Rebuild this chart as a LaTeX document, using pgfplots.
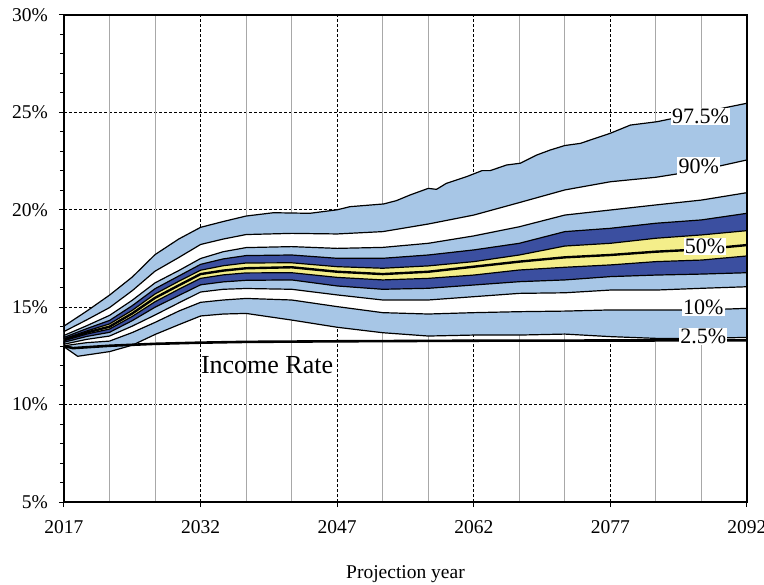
\documentclass[border=0pt]{standalone}
\usepackage{fontspec}
\setmainfont{Liberation Serif}
\usepackage{pgfplots}
\pgfplotsset{compat=1.18}
\usepackage{pgfplotstable}
\usepgfplotslibrary{fillbetween}
\definecolor{lb}{HTML}{A7C6E6}
\definecolor{db}{HTML}{3B4FA0}
\definecolor{yl}{HTML}{F4EE8A}
\definecolor{gr}{HTML}{A8A8A8}

\pgfplotstableread{
year p10 p20 p30 p40 p50 p60 p70 p80 p90
2017 13.02 13.10 13.20 13.28 13.33 13.38 13.45 13.55 13.75
2019.5 13.18 13.35 13.50 13.62 13.70 13.78 13.90 14.05 14.35
2022 13.26 13.52 13.71 13.88 14.00 14.14 14.32 14.58 14.98
2024.5 13.70 14.03 14.31 14.53 14.68 14.84 15.08 15.36 15.85
2027 14.22 14.60 15.00 15.28 15.48 15.68 15.95 16.25 16.85
2029.6 14.80 15.22 15.60 15.92 16.12 16.33 16.60 16.88 17.55
2032 15.25 15.78 16.15 16.48 16.70 16.90 17.20 17.50 18.22
2034.5 15.37 15.92 16.30 16.66 16.88 17.13 17.48 17.85 18.50
2037 15.45 15.96 16.38 16.76 17.00 17.27 17.65 18.06 18.73
2042 15.37 15.92 16.40 16.77 17.05 17.28 17.68 18.11 18.79
2047 15.03 15.63 16.09 16.53 16.82 17.08 17.51 18.02 18.76
2052 14.72 15.37 15.92 16.40 16.70 17.00 17.51 18.07 18.88
2057 14.65 15.37 15.97 16.48 16.82 17.12 17.68 18.28 19.27
2062 14.72 15.54 16.14 16.65 17.08 17.34 17.94 18.66 19.73
2067 14.77 15.71 16.31 16.91 17.34 17.68 18.28 19.13 20.37
2072 14.80 15.74 16.40 17.05 17.56 18.14 18.88 19.73 21.02
2077 14.86 15.88 16.57 17.17 17.68 18.28 19.05 19.99 21.44
2082 14.86 15.88 16.65 17.34 17.85 18.54 19.31 20.25 21.67
2087 14.86 15.97 16.70 17.42 17.97 18.71 19.48 20.50 22.04
2092 14.94 16.05 16.77 17.63 18.19 18.93 19.82 20.88 22.56
}\bands

\pgfplotstableread{
year p975
2017 14.03
2019.5 14.80
2022 15.62
2024.5 16.55
2027 17.70
2029.6 18.50
2032 19.10
2034.5 19.40
2037 19.68
2040 19.85
2044 19.82
2047 20.00
2048.4 20.16
2052.1 20.30
2053.5 20.47
2055 20.76
2057 21.10
2057.9 21.05
2059 21.36
2061.2 21.70
2062.9 22.01
2063.8 22.01
2065.6 22.30
2067.1 22.39
2068.9 22.81
2070.4 23.07
2072 23.30
2073.7 23.41
2077 23.93
2079.2 24.35
2082.1 24.52
2085 24.80
2090.1 25.29
2092 25.47
}\upperband

\pgfplotstableread{
year p025
2017 12.97
2018.5 12.48
2022 12.72
2024.5 13.05
2027 13.60
2029.6 14.10
2032 14.55
2034.5 14.65
2037 14.68
2042 14.34
2047 13.97
2052 13.69
2057 13.52
2062 13.57
2067 13.57
2072 13.62
2077 13.49
2082 13.40
2087 13.40
2092 13.45
}\lowerband

\pgfplotstableread{
year rate
2017 13.00
2018 12.90
2022 13.02
2027 13.12
2032 13.18
2037 13.22
2047 13.25
2062 13.28
2092 13.30
}\income

\begin{document}
\begin{tikzpicture}
\begin{axis}[
  set layers,
  scale only axis,
  width=341.5pt, height=243.5pt,
  xmin=2017, xmax=2092, ymin=5, ymax=30,
  axis line style={line width=0.8pt},
  tick pos=left,
  tick align=outside,
  major tick length=2.5pt,
  minor tick length=2pt,
  xtick={2017,2032,2047,2062,2077,2092},
  xticklabels={2017,2032,2047,2062,2077,2092},
  ytick={5,10,15,20,25,30},
  yticklabels={5\%,10\%,15\%,20\%,25\%,30\%},
  minor y tick num=4,
  ymajorgrids, xmajorgrids,
  major grid style={black, line width=0.4pt, dash pattern=on 1.5pt off 1pt},
  extra x ticks={2022,2027,2037,2042,2052,2057,2067,2072,2082,2087},
  extra x tick labels={},
  extra x tick style={grid=major, major grid style={gr, solid, line width=0.5pt}, major tick length=0pt},
  tick label style={font=\fontsize{9.75}{11}\selectfont, black},
  xticklabel style={yshift=-3pt},
  yticklabel style={xshift=-2pt},
  xlabel={Projection year},
  xlabel style={font=\fontsize{9.75}{11}\selectfont, yshift=-7pt},
  every tick/.style={black, line width=0.5pt},
]
\addplot[draw=none, name path=u975] table[x=year, y=p975] {\upperband};
\addplot[draw=none, name path=l025] table[x=year, y=p025] {\lowerband};
\addplot[draw=none, name path=p90] table[x=year, y=p90] {\bands};
\addplot[draw=none, name path=p80] table[x=year, y=p80] {\bands};
\addplot[draw=none, name path=p70] table[x=year, y=p70] {\bands};
\addplot[draw=none, name path=p60] table[x=year, y=p60] {\bands};
\addplot[draw=none, name path=p40] table[x=year, y=p40] {\bands};
\addplot[draw=none, name path=p30] table[x=year, y=p30] {\bands};
\addplot[draw=none, name path=p20] table[x=year, y=p20] {\bands};
\addplot[draw=none, name path=p10] table[x=year, y=p10] {\bands};

\addplot[lb] fill between[of=u975 and l025];
\addplot[white] fill between[of=p90 and p80];
\addplot[db] fill between[of=p70 and p30];
\addplot[yl] fill between[of=p60 and p40];
\addplot[white] fill between[of=p20 and p10];

\addplot[black, line width=0.6pt] table[x=year, y=p975] {\upperband};
\addplot[black, line width=0.6pt] table[x=year, y=p025] {\lowerband};
\addplot[black, line width=0.6pt] table[x=year, y=p90] {\bands};
\addplot[black, line width=0.6pt] table[x=year, y=p80] {\bands};
\addplot[black, line width=0.6pt] table[x=year, y=p70] {\bands};
\addplot[black, line width=0.6pt] table[x=year, y=p60] {\bands};
\addplot[black, line width=1.2pt] table[x=year, y=p50] {\bands};
\addplot[black, line width=0.6pt] table[x=year, y=p40] {\bands};
\addplot[black, line width=0.6pt] table[x=year, y=p30] {\bands};
\addplot[black, line width=0.6pt] table[x=year, y=p20] {\bands};
\addplot[black, line width=0.6pt] table[x=year, y=p10] {\bands};
\addplot[black, line width=1.3pt] table[x=year, y=rate] {\income};

\draw[line width=0.8pt] (rel axis cs:0,0) rectangle (rel axis cs:1,1);

\begin{scope}[every node/.style={fill=white, inner sep=0.6pt, font=\fontsize{11}{12}\selectfont}]
\node at (axis cs:2086.9,24.80) {97.5\%};
\node at (axis cs:2086.7,22.25) {90\%};
\node at (axis cs:2087.4,18.10) {50\%};
\node at (axis cs:2087.2,15.00) {10\%};
\node at (axis cs:2087.2,13.50) {2.5\%};
\end{scope}
\node[font=\fontsize{13}{14}\selectfont] at (axis cs:2039.3,12.03) {Income Rate};
\coordinate (bl) at (rel axis cs:0,0);
\end{axis}
\pgfresetboundingbox
\useasboundingbox (bl) ++(-32pt,-41pt) rectangle ++(382pt,292pt);
\end{tikzpicture}
\end{document}
